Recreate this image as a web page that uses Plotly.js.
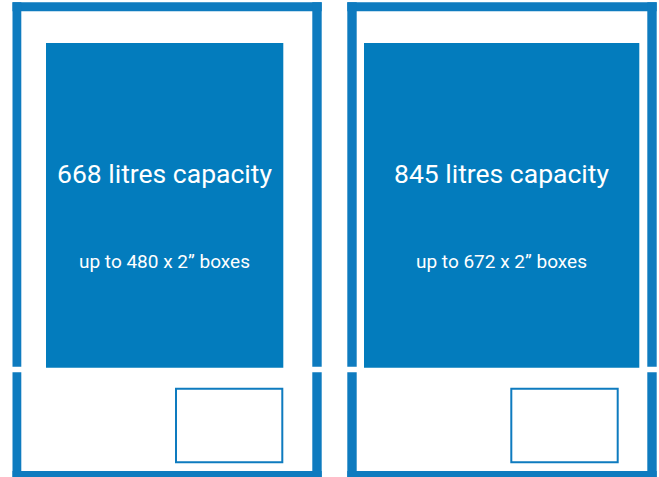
<!DOCTYPE html>
<html>
<head>
<meta charset="utf-8">
<script src="https://cdn.plot.ly/plotly-3.0.1.min.js"></script>
<style>html,body{margin:0;padding:0;background:#fff;}#chart{width:659px;height:477px;}</style>
</head>
<body>
<div id="chart"></div>
<script>
// Data
var capacityLitres = [668, 845];
var boxCounts = [480, 672];
var capacityLabels = capacityLitres.map(function (v) { return v + " litres capacity"; });
var boxLabels = boxCounts.map(function (v) { return "up to " + v + " x 2\u201D boxes"; });

// Layout geometry (pixel-based data coordinates)
var frameColor = "#0e7bbf";
var blockColor = "#037cbd";
var cabinets = [
  {x0: 12.5, x1: 321.7, ix0: 21.3, ix1: 312.3, bx0: 46, bx1: 283.3, sx0: 175, sx1: 283.3},
  {x0: 347.3, x1: 656.7, ix0: 356.7, ix1: 647.3, bx0: 364, bx1: 639.3, sx0: 510.3, sx1: 618.7}
];
var shapes = [];
function rect(x0, x1, y0, y1, fill) {
  shapes.push({type: "rect", xref: "x", yref: "y", x0: x0, x1: x1, y0: y0, y1: y1,
    fillcolor: fill, line: {width: 0}, layer: "above"});
}
var annotations = [];
cabinets.forEach(function (c, i) {
  // upper frame
  rect(c.x0, c.x1, 2.3, 11.3, frameColor);
  rect(c.x0, c.ix0, 2.3, 366.7, frameColor);
  rect(c.ix1, c.x1, 2.3, 366.7, frameColor);
  // lower frame
  rect(c.x0, c.ix0, 372.3, 480, frameColor);
  rect(c.ix1, c.x1, 372.3, 480, frameColor);
  rect(c.x0, c.x1, 471, 480, frameColor);
  // storage block
  rect(c.bx0, c.bx1, 43, 367.7, blockColor);
  // small drawer
  shapes.push({type: "rect", xref: "x", yref: "y", x0: c.sx0 + 1, x1: c.sx1 - 1, y0: 388.7, y1: 462.3,
    fillcolor: "rgba(0,0,0,0)", line: {color: frameColor, width: 2}, layer: "above"});
  var cx = (c.bx0 + c.bx1) / 2;
  annotations.push({x: cx, y: 173, xref: "x", yref: "y", text: capacityLabels[i], showarrow: false,
    xanchor: "center", yanchor: "middle", font: {family: "Roboto, sans-serif", size: 26.5, color: "#ffffff"}});
  annotations.push({x: cx, y: 261, xref: "x", yref: "y", text: boxLabels[i], showarrow: false,
    xanchor: "center", yanchor: "middle", font: {family: "Roboto, sans-serif", size: 19, color: "#ffffff"}});
});

var axisBase = {showgrid: false, zeroline: false, showticklabels: false, showline: false, ticks: "", fixedrange: true};
var layout = {
  width: 659, height: 477,
  margin: {l: 0, r: 0, t: 0, b: 0},
  paper_bgcolor: "#ffffff", plot_bgcolor: "#ffffff",
  showlegend: false,
  xaxis: Object.assign({range: [0, 659]}, axisBase),
  yaxis: Object.assign({range: [477, 0]}, axisBase),
  shapes: shapes,
  annotations: annotations
};
Plotly.newPlot("chart", [{x: [0], y: [0], mode: "markers", marker: {opacity: 0}, hoverinfo: "skip"}], layout, {staticPlot: true, displayModeBar: false});
</script>
</body>
</html>
